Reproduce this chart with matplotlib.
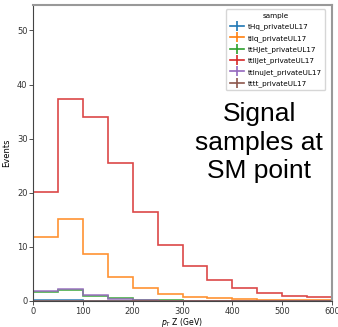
"""Signal samples pT(Z) distribution at SM point"""

import matplotlib
matplotlib.use('Agg')
import matplotlib.pyplot as plt
from matplotlib.lines import Line2D
import numpy as np

edges = np.arange(0, 650, 50)

samples = ['tHq_privateUL17', 'tllq_privateUL17', 'ttHJet_privateUL17',
           'ttllJet_privateUL17', 'ttlnuJet_privateUL17', 'tttt_privateUL17']
colors = ['tab:blue', 'tab:orange', 'tab:green', 'tab:red', 'tab:purple', 'tab:brown']

thq = [0.1, 0.1, 0.05, 0.03, 0.02, 0.01, 0.01, 0.0, 0.0, 0.0, 0.0, 0.0]
tllq = [11.9, 15.1, 8.7, 4.5, 2.4, 1.3, 0.8, 0.5, 0.3, 0.2, 0.1, 0.1]
tthjet = [1.7, 2.1, 1.0, 0.5, 0.2, 0.1, 0.05, 0.03, 0.02, 0.01, 0.01, 0.0]
ttlljet = [20.1, 37.3, 34.0, 25.5, 16.4, 10.4, 6.4, 3.9, 2.4, 1.4, 1.0, 0.7]
ttlnujet = [1.9, 2.3, 1.1, 0.3, 0.1, 0.05, 0.03, 0.02, 0.01, 0.01, 0.0, 0.0]
tttt = [0.02, 0.02, 0.02, 0.01, 0.01, 0.01, 0.0, 0.0, 0.0, 0.0, 0.0, 0.0]

values = [thq, tllq, tthjet, ttlljet, ttlnujet, tttt]

fig = plt.figure(figsize=(3.38, 3.27), dpi=100)
fig.set_facecolor('w')
ax = fig.add_axes([33 / 338, 26 / 327, 299 / 338, 296 / 327])

for vals, c in zip(values, colors):
    ax.stairs(vals, edges, color=c, lw=1.2, alpha=0.85)

ax.set_xlim(0, 600)
ax.set_ylim(0, 54.7)
ax.set_xticks(range(0, 700, 100))
ax.set_yticks(range(0, 60, 10))
ax.tick_params(labelsize=6, length=3, width=0.6, pad=1, colors='#333333')
ax.set_xlabel('$p_T$ Z (GeV)', fontsize=5.6, labelpad=0)
ax.set_ylabel('Events', fontsize=6, labelpad=4)
for s in ['left', 'bottom']:
    ax.spines[s].set_color('#444444')
    ax.spines[s].set_linewidth(0.8)
for s in ['top', 'right']:
    ax.spines[s].set_color('#999999')
    ax.spines[s].set_linewidth(1.5)

handles = [Line2D([], [], color=c, marker='|', markersize=7, lw=1.2, mew=1.2) for c in colors]
leg = ax.legend(handles, samples, title='sample', fontsize=5.2, title_fontsize=5.2,
                loc='upper right', handlelength=2.0, labelspacing=0.62,
                borderpad=0.5, handletextpad=0.5, framealpha=0.8,
                bbox_to_anchor=(0.99, 0.997))

ax.text(0.756, 0.535, 'Signal\nsamples at\nSM point', transform=ax.transAxes,
        ha='center', va='center', fontsize=19, family='Liberation Sans',
        linespacing=1.25)

fig.savefig('out.png', dpi=100)
